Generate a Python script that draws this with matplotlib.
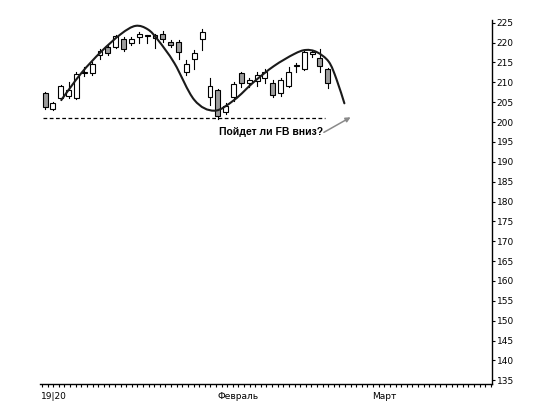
import numpy as np
import matplotlib.pyplot as plt
import matplotlib.patches as ptchs
import matplotlib.transforms as mtrans
from matplotlib.path import Path

# OHLC of the daily candles (trading-day index 0..36)
opens = [207.3, 203.4, 206.0, 206.5, 206.0, 212.3, 212.3, 216.9, 218.8, 219.0,
         220.9, 220.0, 221.3, 221.7, 221.8, 222.1, 220.2, 220.2, 212.5, 215.8,
         220.8, 206.3, 208.1, 202.6, 206.2, 212.3, 209.7, 210.2, 211.0, 209.9,
         207.2, 209.1, 214.0, 213.3, 217.0, 216.0, 213.3]
highs = [207.6, 205.1, 209.3, 210.0, 212.5, 213.8, 215.0, 218.3, 219.3, 222.0,
         221.3, 221.5, 222.6, 221.9, 222.1, 222.8, 220.7, 220.6, 215.6, 218.1,
         223.3, 211.0, 208.3, 204.7, 210.1, 212.5, 211.0, 212.5, 213.3, 210.5,
         211.0, 213.8, 214.9, 217.9, 218.0, 218.4, 213.6]
lows = [203.3, 203.0, 205.6, 206.1, 205.7, 211.6, 211.8, 215.9, 216.8, 218.7,
        218.0, 219.3, 219.8, 219.8, 218.7, 220.2, 218.8, 215.9, 211.8, 213.3,
        218.1, 204.2, 200.7, 202.1, 205.3, 208.9, 208.9, 209.1, 209.9, 206.2,
        206.6, 208.7, 212.7, 213.0, 216.3, 212.7, 208.5]
closes = [203.9, 204.7, 209.0, 208.1, 212.1, 212.5, 214.6, 217.8, 217.3, 221.6,
          218.5, 220.8, 222.2, 221.9, 221.1, 220.9, 219.3, 217.5, 214.6, 217.3,
          222.6, 209.1, 201.5, 204.1, 209.5, 209.7, 210.5, 211.8, 212.5, 206.8,
          210.6, 212.7, 214.2, 217.5, 217.5, 214.1, 209.7]

# hand drawn "wave" curve (trading-day index, price)
wave_x = [2.07, 4.60, 7.14, 9.67, 11.53, 13.10,
          14.40, 16.48, 19.01, 21.55, 24.08,
          26.62, 29.15, 31.70, 33.17, 34.60,
          36.12, 37.10, 38.11]
wave_y = [205.55, 212.26, 217.70, 222.16, 224.20, 223.30,
          220.60, 214.78, 205.55, 202.85, 205.55,
          210.15, 214.10, 217.10, 218.13, 217.60,
          215.18, 210.80, 204.71]

support = 200.95
support_span = [-0.25, 35.7]

month_labels = ["19|20", "Февраль", "Март"]
month_pos = [-0.5, 21.9, 41.6]

fig = plt.figure(figsize=(5.42, 4.13), dpi=100)
ax = fig.add_axes([0.0738, 0.0702, 0.8339, 0.8814])

# candles
body_w = 0.63
for i, (o, h, l, c) in enumerate(zip(opens, highs, lows, closes)):
    ax.plot([i, i], [l, h], color="black", lw=0.8, zorder=2)
    color = "white" if c >= o else "#9c9c9c"
    bottom = min(o, c)
    height = max(abs(c - o), 0.25)
    ax.add_patch(ptchs.Rectangle((i - body_w / 2, bottom), body_w, height,
                                 facecolor=color, edgecolor="black",
                                 lw=0.8, zorder=3))

# wave curve, drawn as a smooth bezier path through the read points
pts = np.column_stack([wave_x, wave_y])
verts = [pts[0]]
codes = [Path.MOVETO]
for k in range(len(pts) - 1):
    p0 = pts[max(k - 1, 0)]
    p1 = pts[k]
    p2 = pts[k + 1]
    p3 = pts[min(k + 2, len(pts) - 1)]
    verts += [p1 + (p2 - p0) / 6, p2 - (p3 - p1) / 6, p2]
    codes += [Path.CURVE4] * 3
ax.add_patch(ptchs.PathPatch(Path(verts, codes), facecolor="none",
                             edgecolor="#1a1a1a", lw=1.5, zorder=4,
                             capstyle="round"))

# support line
ax.plot(support_span, [support, support], color="black", lw=0.9,
        dashes=(3, 2), zorder=1)

# annotation
ax.text(22.2, 197.5, "Пойдет ли FB вниз?", fontsize=7.5, fontweight="bold",
        family="Liberation Sans", ha="left", va="center")
ax.annotate("", xy=(38.9, 201.2), xytext=(35.5, 197.4),
            arrowprops=dict(arrowstyle="-|>", color="#8a8a8a", lw=1.1,
                            mutation_scale=7, shrinkA=0, shrinkB=0))

ax.set_xlim(-0.64, 56.9)
ax.set_ylim(134.07, 225.68)

# axes styling
ax.spines["left"].set_visible(False)
ax.spines["top"].set_visible(False)
ax.spines["right"].set_linewidth(1.0)
ax.spines["bottom"].set_linewidth(1.0)

ax.yaxis.tick_right()
ax.set_yticks(np.arange(135, 226, 5))
ax.tick_params(axis="y", direction="out", length=2.5, width=0.8, pad=1,
               labelsize=6.5)

ax.set_xticks(np.arange(-0.38, 56.9, 5 / 7))
ax.set_xticklabels([])
ax.tick_params(axis="x", direction="out", length=2.5, width=0.8)

trans = mtrans.blended_transform_factory(ax.transData, ax.transAxes)
for lab, pos in zip(month_labels, month_pos):
    ax.text(pos, -0.033, lab, transform=trans, fontsize=6.5,
            ha="left", va="center")

fig.savefig("out.png", dpi=100)
